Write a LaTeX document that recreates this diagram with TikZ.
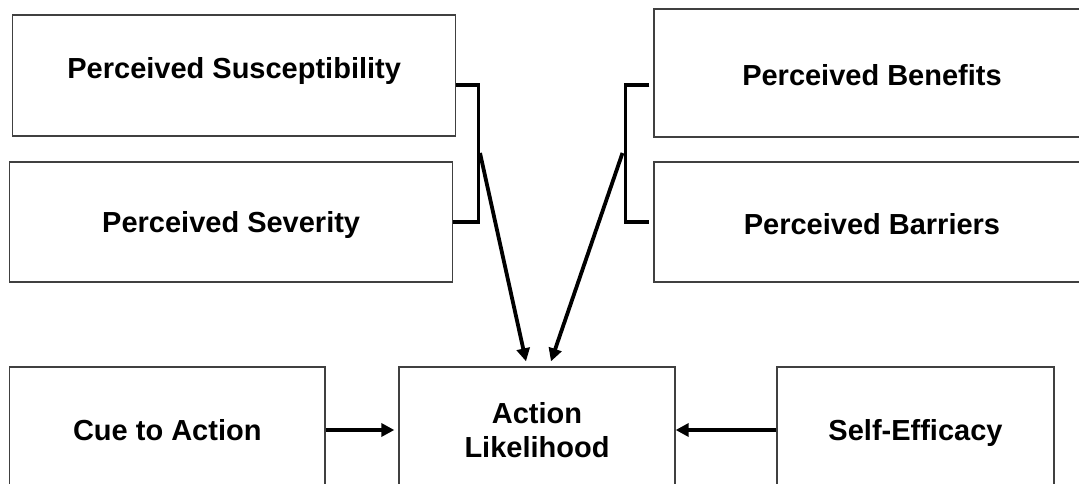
\documentclass[tikz,border=0pt]{standalone}
\usepackage{fontspec}
\setmainfont{Liberation Sans}
\usetikzlibrary{arrows.meta}

\begin{document}
\begin{tikzpicture}[x=1pt, y=-1pt, >={Triangle[length=13pt,width=13pt]},
        main/.style = {draw=black!75, line width=1.3pt, inner sep=0pt, align=center,
                       font=\fontsize{29}{34}\selectfont\bfseries},
        bracket/.style = {line width=3.5pt, line cap=butt},
        link/.style = {line width=3.8pt}]
        \path[use as bounding box, clip] (0,0) rectangle (1079,484);

        \node[main, minimum width=443pt, minimum height=121pt, text depth=16pt] (susc) at (234.2,75.5) {Perceived Susceptibility};
        \node[main, minimum width=443pt, minimum height=120pt, text height=28pt] (sev) at (231.2,222) {Perceived Severity};
        \node[main, minimum width=436pt, minimum height=128pt, text height=25pt] (ben) at (872,73) {Perceived Benefits};
        \node[main, minimum width=436pt, minimum height=120pt, text height=25pt] (bar) at (872,222) {Perceived Barriers};
        \node[main, minimum width=315.4pt, minimum height=126pt] (cue) at (167.3,430) {Cue to Action};
        \node[main, minimum width=276pt, minimum height=126pt] (act) at (537,430) {Action\\Likelihood};
        \node[main, minimum width=277pt, minimum height=126pt, text height=27pt] (self) at (915.5,430) {Self-Efficacy};

        \draw[bracket] ([yshift=-9.5pt]susc.east) -- ++(22,0) |- (sev.east);
        \draw[bracket] ([xshift=-4pt,yshift=-12pt]ben.west) -- ++(-24,0) |- ([xshift=-4pt]bar.west);

        \coordinate (lj) at (480,153);
        \coordinate (rj) at (622.5,153);
        \draw[link, ->] (lj) -- ([xshift=-11pt,yshift=5pt]act.north);
        \draw[link, ->] (rj) -- ([xshift=14pt,yshift=5pt]act.north);
        \draw[link, ->] (cue) -- ([xshift=-4pt]act.west);
        \draw[link, ->] (self) -- (act.east);
    \end{tikzpicture}
\end{document}
